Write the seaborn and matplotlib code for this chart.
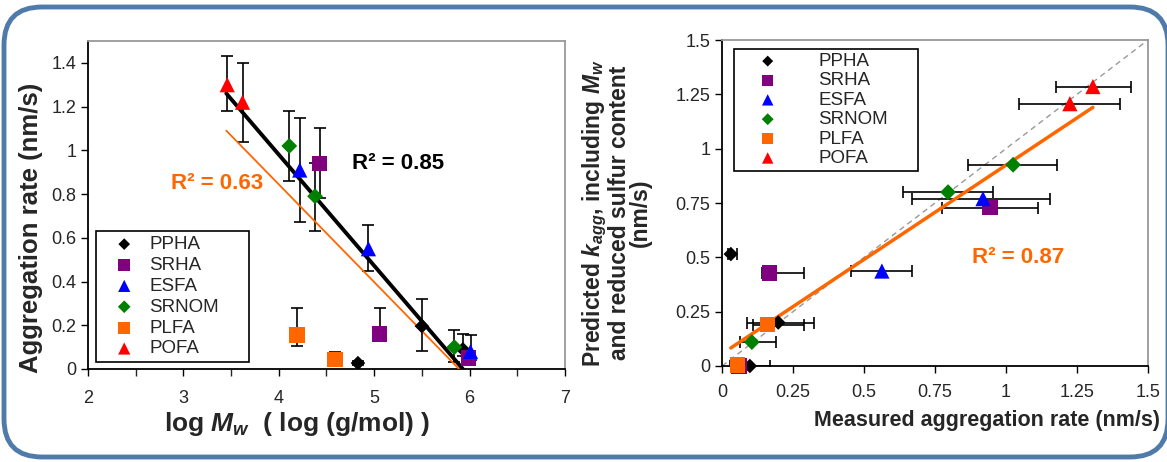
import numpy as np
import pandas as pd
import matplotlib
matplotlib.use("Agg")
import matplotlib.pyplot as plt
import seaborn as sns
from matplotlib.patches import FancyBboxPatch
from matplotlib.ticker import MultipleLocator

# ---- data ----
groups = ["PPHA", "SRHA", "ESFA", "SRNOM", "PLFA", "POFA"]
colors = {"PPHA": "black", "SRHA": "#800080", "ESFA": "#0000ff",
          "SRNOM": "#008000", "PLFA": "#ff6600", "POFA": "#ff0000"}
markers = {"PPHA": "D", "SRHA": "s", "ESFA": "^", "SRNOM": "D", "PLFA": "s", "POFA": "^"}
msize = {"PPHA": 55, "SRHA": 120, "ESFA": 120, "SRNOM": 65, "PLFA": 120, "POFA": 120}

# left panel: log Mw vs aggregation rate
logmw = {"PPHA": [5.50, 4.83, 5.93], "SRHA": [4.43, 5.06, 5.99], "ESFA": [4.22, 4.94, 6.01],
         "SRNOM": [4.11, 4.38, 5.84], "PLFA": [4.19, 4.59], "POFA": [3.46, 3.62]}
rate = {"PPHA": [0.196, 0.027, 0.09], "SRHA": [0.94, 0.16, 0.05], "ESFA": [0.91, 0.55, 0.08],
        "SRNOM": [1.02, 0.79, 0.10], "PLFA": [0.155, 0.045], "POFA": [1.30, 1.22]}
rate_lo = {"PPHA": [0.115, 0.01, 0.03], "SRHA": [0.16, 0.03, 0.0], "ESFA": [0.24, 0.10, 0.04],
           "SRNOM": [0.16, 0.16, 0.07], "PLFA": [0.05, 0.0], "POFA": [0.12, 0.18]}
rate_hi = {"PPHA": [0.125, 0.01, 0.07], "SRHA": [0.16, 0.12, 0.0], "ESFA": [0.24, 0.11, 0.075],
           "SRNOM": [0.16, 0.15, 0.08], "PLFA": [0.125, 0.035], "POFA": [0.13, 0.18]}
fit_all_x = [3.45, 5.93]
fit_all_y = [1.26, 0.0]
fit_sub_x = [3.45, 5.89]
fit_sub_y = [1.09, 0.0]

# right panel: measured vs predicted
measured = {"PPHA": [0.031, 0.198, 0.098], "SRHA": [0.944, 0.166, 0.06], "ESFA": [0.919, 0.563],
            "SRNOM": [1.025, 0.796, 0.105], "PLFA": [0.159, 0.054], "POFA": [1.306, 1.225]}
predicted = {"PPHA": [0.515, 0.20, 0.0], "SRHA": [0.728, 0.428, 0.0], "ESFA": [0.77, 0.437],
             "SRNOM": [0.926, 0.80, 0.11], "PLFA": [0.19, 0.005], "POFA": [1.286, 1.207]}
meas_lo = {"PPHA": [0.01, 0.11, 0.07], "SRHA": [0.17, 0.025, 0.01], "ESFA": [0.25, 0.11],
           "SRNOM": [0.16, 0.16, 0.04], "PLFA": [0.05, 0.01], "POFA": [0.13, 0.18]}
meas_hi = {"PPHA": [0.02, 0.125, 0.07], "SRHA": [0.17, 0.123, 0.01], "ESFA": [0.235, 0.106],
           "SRNOM": [0.155, 0.158, 0.085], "PLFA": [0.13, 0.01], "POFA": [0.134, 0.175]}
fit_pred_x = [0.031, 1.306]
fit_pred_y = [0.083, 1.19]

sns.set_style("ticks")
plt.rcParams["font.family"] = ["Liberation Sans", "DejaVu Sans"]
plt.rcParams["mathtext.fontset"] = "custom"
plt.rcParams["mathtext.it"] = "Liberation Sans:bold:italic"
plt.rcParams["mathtext.rm"] = "Liberation Sans:bold"
plt.rcParams["mathtext.bf"] = "Liberation Sans:bold"

fig = plt.figure(figsize=(11.67, 4.62), dpi=100)
fig.patch.set_facecolor("white")

# rounded frame drawn in pixel units on a background axes
bg = fig.add_axes([0, 0, 1, 1], zorder=-1)
bg.set_xlim(0, 1167)
bg.set_ylim(0, 462)
bg.axis("off")
bg.add_patch(FancyBboxPatch((4, 5), 1164, 450, boxstyle="round,pad=0,rounding_size=38",
                            fill=False, edgecolor="#4f7bab", lw=3.5))

ax1 = fig.add_axes([0.0754, 0.2013, 0.4087, 0.710])
ax2 = fig.add_axes([0.6187, 0.2078, 0.365, 0.7056])


def long_df(xd, yd):
    rows = []
    for g in groups:
        for xv, yv in zip(xd[g], yd[g]):
            rows.append({"x": xv, "y": yv, "group": g})
    return pd.DataFrame(rows)


# ---- left panel ----
for g in groups:
    ax1.errorbar(logmw[g], rate[g], yerr=[rate_lo[g], rate_hi[g]], fmt="none",
                 ecolor="black", elinewidth=1.2, capsize=4, capthick=1.2, zorder=2)
ax1.plot(fit_all_x, fit_all_y, color="black", lw=2.8, zorder=3)
ax1.plot(fit_sub_x, fit_sub_y, color="#ff6600", lw=1.3, zorder=3)
df1 = long_df(logmw, rate)
for g in groups:
    sub = df1[df1["group"] == g]
    sns.scatterplot(data=sub, x="x", y="y", ax=ax1, color=colors[g], marker=markers[g],
                    s=msize[g], edgecolor="none", label=g, zorder=4)
ax1.set_xlim(2, 7)
ax1.set_ylim(0, 1.5)
ax1.set_yticks(np.arange(0, 1.41, 0.2))
ax1.set_yticklabels(["0", "0.2", "0.4", "0.6", "0.8", "1", "1.2", "1.4"])
ax1.xaxis.set_major_locator(MultipleLocator(1))
ax1.xaxis.set_minor_locator(MultipleLocator(0.5))
ax1.tick_params(axis="x", which="minor", length=5, width=1)
ax1.tick_params(axis="x", which="major", pad=10)
ax1.text(4.77, 0.94, "R² = 0.85", fontsize=16, fontweight="bold", color="black",
         va="center")
ax1.text(2.87, 0.85, "R² = 0.63", fontsize=16, fontweight="bold", color="#ff6600",
         va="center")
ax1.set_xlabel("log $M_w$  ( log (g/mol) )", fontsize=19, fontweight="bold")
ax1.xaxis.set_label_coords(0.438, -0.125)
ax1.set_ylabel("Aggregation rate (nm/s)", fontsize=18.5, fontweight="bold")
ax1.yaxis.set_label_coords(-0.094, 0.43)
leg1 = ax1.legend(loc="lower left", bbox_to_anchor=(0.017, 0.021, 0.321, 0.378),
                  mode="expand", fontsize=13.5,
                  frameon=True, fancybox=False, edgecolor="black", framealpha=1,
                  borderpad=0.25, labelspacing=0.2, handlelength=2.5, handletextpad=0.1,
                  borderaxespad=0, markerscale=0.8)
leg1.get_frame().set_linewidth(1.2)

# ---- right panel ----
ax2.plot([0, 1.5], [0, 1.5], color="#999999", lw=1, ls=(0, (4, 3)), zorder=1)
for g in groups:
    ax2.errorbar(measured[g], predicted[g], xerr=[meas_lo[g], meas_hi[g]], fmt="none",
                 ecolor="black", elinewidth=1.2, capsize=4, capthick=1.2, zorder=2)
ax2.plot(fit_pred_x, fit_pred_y, color="#ff6600", lw=2.5, zorder=3)
df2 = long_df(measured, predicted)
for g in groups:
    sub = df2[df2["group"] == g]
    sns.scatterplot(data=sub, x="x", y="y", ax=ax2, color=colors[g], marker=markers[g],
                    s=msize[g], edgecolor="none", label=g, zorder=4, clip_on=False)
ax2.set_xlim(0, 1.5)
ax2.set_ylim(0, 1.5)
tk = [0, 0.25, 0.5, 0.75, 1, 1.25, 1.5]
tl = ["0", "0.25", "0.5", "0.75", "1", "1.25", "1.5"]
ax2.set_xticks(tk)
ax2.set_xticklabels(tl)
ax2.set_yticks(tk)
ax2.set_yticklabels(tl)
ax2.tick_params(axis="x", which="major", pad=8)
ax2.text(0.88, 0.5, "R² = 0.87", fontsize=16, fontweight="bold", color="#ff6600",
         va="center")
ax2.set_xlabel("Measured aggregation rate (nm/s)", fontsize=15.5, fontweight="bold")
ax2.xaxis.set_label_coords(0.622, -0.135)
ax2.set_ylabel("Predicted $k_{agg}$, including $M_w$\nand reduced sulfur content\n(nm/s)",
               fontsize=16.5, fontweight="bold", linespacing=0.9)
ax2.yaxis.set_label_coords(-0.165, 0.47)
leg2 = ax2.legend(loc="upper left", bbox_to_anchor=(0.028, 0.61, 0.432, 0.362),
                  mode="expand", fontsize=13.5,
                  frameon=True, fancybox=False, edgecolor="black", framealpha=1,
                  borderpad=0.2, labelspacing=0.12, handlelength=3.2, handletextpad=1.1,
                  borderaxespad=0, markerscale=0.75)
leg2.get_frame().set_linewidth(1.2)

for ax in (ax1, ax2):
    ax.tick_params(axis="both", which="major", labelsize=13, direction="out",
                   length=5, width=1, color="black")
    ax.spines["left"].set_color("black")
    ax.spines["bottom"].set_color("black")
    ax.spines["left"].set_linewidth(1.3)
    ax.spines["bottom"].set_linewidth(1.3)
    ax.spines["top"].set_color("#999999")
    ax.spines["right"].set_color("#999999")
    ax.spines["top"].set_linewidth(1.3)
    ax.spines["right"].set_linewidth(1.3)
    ax.set_facecolor("white")

fig.savefig("out.png", dpi=100, facecolor="white")
